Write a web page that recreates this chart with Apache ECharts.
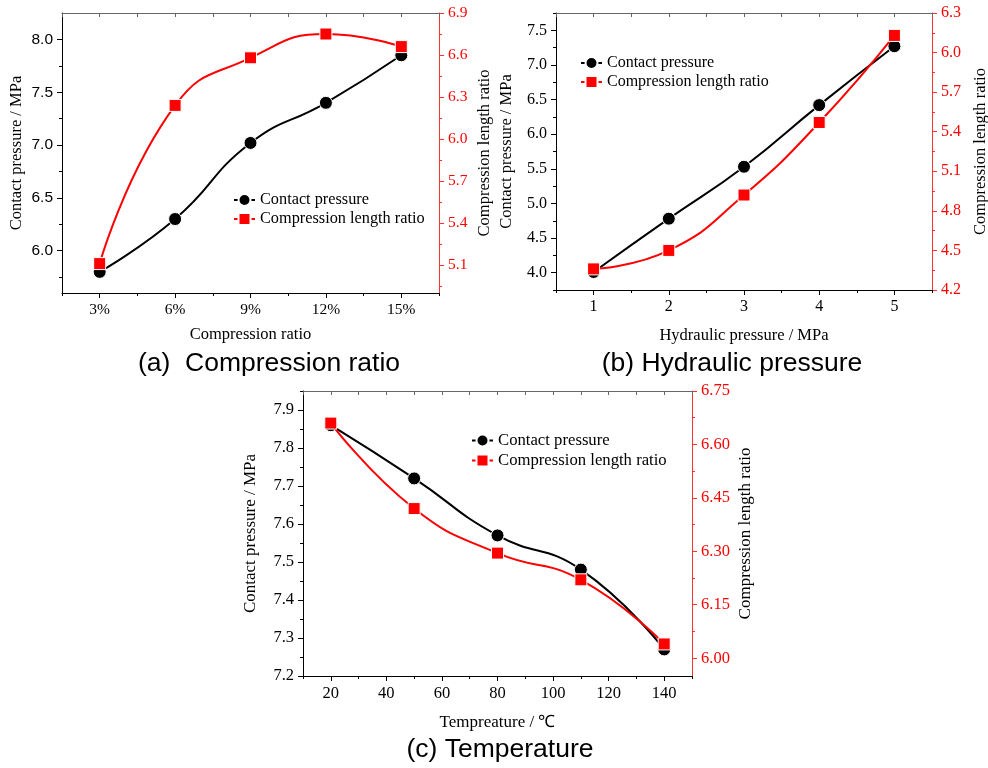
<!DOCTYPE html>
<html lang="en">
<head>
<meta charset="UTF-8">
<title>Contact pressure and compression length ratio</title>
<script src="https://cdn.jsdelivr.net/npm/echarts@6/dist/echarts.min.js"></script>
<style>html,body{margin:0;padding:0;background:#fff;}</style>
</head>
<body>
<div id="main" style="width:988px;height:768px;"></div>
<script>
// (a) compression ratio
var ratioX = [3, 6, 9, 12, 15];
var ratioPressure = [5.80, 6.30, 7.02, 7.40, 7.85];
var ratioLength = [5.11, 6.24, 6.58, 6.75, 6.66];
// (b) hydraulic pressure
var hydX = [1, 2, 3, 4, 5];
var hydPressure = [4.01, 4.78, 5.53, 6.42, 7.27];
var hydLength = [4.36, 4.50, 4.92, 5.47, 6.13];
// (c) temperature
var tempX = [20, 50, 80, 110, 140];
var tempPressure = [7.86, 7.72, 7.57, 7.48, 7.27];
var tempLength = [6.66, 6.42, 6.295, 6.22, 6.04];

// tick values
var ratioXTicks = [3, 6, 9, 12, 15];
var ratioXMinor = [1.5, 4.5, 7.5, 10.5, 13.5, 16.5];
var ratioLTicks = [6.0, 6.5, 7.0, 7.5, 8.0];
var ratioLMinor = [5.75, 6.25, 6.75, 7.25, 7.75];
var ratioRTicks = [5.1, 5.4, 5.7, 6.0, 6.3, 6.6, 6.9];
var ratioRMinor = [4.95, 5.25, 5.55, 5.85, 6.15, 6.45, 6.75];

var hydXTicks = [1, 2, 3, 4, 5];
var hydXMinor = [0.5, 1.5, 2.5, 3.5, 4.5, 5.5];
var hydLTicks = [4.0, 4.5, 5.0, 5.5, 6.0, 6.5, 7.0, 7.5];
var hydLMinor = [3.75, 4.25, 4.75, 5.25, 5.75, 6.25, 6.75, 7.25, 7.75];
var hydRTicks = [4.2, 4.5, 4.8, 5.1, 5.4, 5.7, 6.0, 6.3];
var hydRMinor = [4.35, 4.65, 4.95, 5.25, 5.55, 5.85, 6.15];

var tempXTicks = [20, 40, 60, 80, 100, 120, 140];
var tempXMinor = [10, 30, 50, 70, 90, 110, 130, 150];
var tempLTicks = [7.2, 7.3, 7.4, 7.5, 7.6, 7.7, 7.8, 7.9];
var tempLMinor = [7.25, 7.35, 7.45, 7.55, 7.65, 7.75, 7.85, 7.95];
var tempRTicks = [6.00, 6.15, 6.30, 6.45, 6.60, 6.75];
var tempRMinor = [6.075, 6.225, 6.375, 6.525, 6.675];

var serif = '"Liberation Serif", "Times New Roman", serif';
var sans = '"Liberation Sans", Arial, sans-serif';
var red = '#ff0000';
var names = ['Contact pressure', 'Compression length ratio'];

var panels = [
  {rect: [62, 13, 377, 280], fs: {tick: 15.5, name: 16.5, legend: 16.3},
   x: {min: 1.5, max: 16.5, major: ratioXTicks, minor: ratioXMinor, fmt: function (v) { return v + '%'; }, name: 'Compression ratio', gap: 33},
   yl: {min: 5.6, max: 8.25, major: ratioLTicks, minor: ratioLMinor, dec: 1, font: sans, gap: 37},
   yr: {min: 4.9, max: 6.9, major: ratioRTicks, minor: ratioRMinor, dec: 1, gap: 37},
   legend: [233, 192], title: '(a)  Compression ratio', titlePos: [269, 364],
   xs: ratioX, p: ratioPressure, l: ratioLength},
  {rect: [556, 13, 376, 277], fs: {tick: 16, name: 16.5, legend: 16},
   x: {min: 0.5, max: 5.5, major: hydXTicks, minor: hydXMinor, fmt: function (v) { return v; }, name: 'Hydraulic pressure / MPa', gap: 37},
   yl: {min: 3.75, max: 7.75, major: hydLTicks, minor: hydLMinor, dec: 1, font: serif, gap: 41},
   yr: {min: 4.2, max: 6.3, major: hydRTicks, minor: hydRMinor, dec: 1, gap: 40},
   legend: [580, 55], title: '(b) Hydraulic pressure', titlePos: [732, 364],
   xs: hydX, p: hydPressure, l: hydLength},
  {rect: [303, 391, 389, 285], fs: {tick: 16.5, name: 17, legend: 16.7},
   x: {min: 10, max: 150, major: tempXTicks, minor: tempXMinor, fmt: function (v) { return v; }, name: 'Tempreature / \u2103', gap: 38},
   yl: {min: 7.2, max: 7.95, major: tempLTicks, minor: tempLMinor, dec: 1, font: serif, gap: 44},
   yr: {min: 5.95, max: 6.75, major: tempRTicks, minor: tempRMinor, dec: 2, gap: 45},
   legend: [471, 432], title: '(c) Temperature', titlePos: [500, 750],
   xs: tempX, p: tempPressure, l: tempLength}
];

var grids = [], xAxes = [], yAxes = [], series = [], legends = [], graphics = [];

function mainAxis(gi, pos, c, color, labelColor, font, fmt, name, fs) {
  return {
    type: 'value', gridIndex: gi, position: pos, min: c.min, max: c.max,
    axisLine: {show: true, onZero: false, lineStyle: {color: color, width: 1}},
    axisTick: {show: true, inside: false, length: 5, customValues: c.major, lineStyle: {color: color}},
    axisLabel: {show: true, customValues: c.major, formatter: fmt, color: labelColor,
      fontFamily: font, fontSize: fs.tick, margin: 9, showMinLabel: true, showMaxLabel: true},
    splitLine: {show: false},
    name: name, nameLocation: 'middle', nameGap: c.gap,
    nameTextStyle: {fontFamily: serif, fontSize: fs.name, color: '#000'}
  };
}
function minorAxis(gi, pos, c, color, inside, len, ticks) {
  return {
    type: 'value', gridIndex: gi, position: pos, min: c.min, max: c.max,
    axisLine: {show: !!inside, onZero: false, lineStyle: {color: '#666', width: 1}},
    axisTick: {show: true, inside: !!inside, length: len, customValues: ticks, lineStyle: {color: color}},
    axisLabel: {show: false},
    splitLine: {show: false}
  };
}

panels.forEach(function (pn, gi) {
  grids.push({left: pn.rect[0], top: pn.rect[1], width: pn.rect[2], height: pn.rect[3],
    containLabel: false, outerBoundsMode: 'none'});
  var decL = pn.yl.dec, decR = pn.yr.dec;

  var xi = xAxes.length;
  xAxes.push(mainAxis(gi, 'bottom', pn.x, '#000', '#000', serif, pn.x.fmt, pn.x.name, pn.fs));
  xAxes.push(minorAxis(gi, 'bottom', pn.x, '#000', false, 3, pn.x.minor));
  xAxes.push(minorAxis(gi, 'top', pn.x, '#666', true, 4, pn.x.major.concat(pn.x.minor)));

  var yl = yAxes.length;
  yAxes.push(mainAxis(gi, 'left', pn.yl, '#000', '#000', pn.yl.font,
    function (v) { return v.toFixed(decL); }, 'Contact pressure / MPa', pn.fs));
  yAxes.push(minorAxis(gi, 'left', pn.yl, '#000', false, 3, pn.yl.minor));
  var yr = yAxes.length;
  yAxes.push(mainAxis(gi, 'right', pn.yr, '#ff3030', red, serif,
    function (v) { return v.toFixed(decR); }, 'Compression length ratio', pn.fs));
  yAxes.push(minorAxis(gi, 'right', pn.yr, '#ff3030', false, 3, pn.yr.minor));

  var pData = pn.xs.map(function (x, i) { return [x, pn.p[i]]; });
  var lData = pn.xs.map(function (x, i) { return [x, pn.l[i]]; });
  series.push({
    type: 'line', name: names[0], xAxisIndex: xi, yAxisIndex: yl, data: pData,
    smooth: 0.5, symbol: 'circle', symbolSize: 13,
    itemStyle: {color: '#000', borderColor: '#fff', borderWidth: 1},
    lineStyle: {color: '#000', width: 2}, z: 3
  });
  series.push({
    type: 'line', name: names[1], xAxisIndex: xi, yAxisIndex: yr, data: lData,
    smooth: 0.5, symbol: 'rect', symbolSize: 12,
    itemStyle: {color: red, borderColor: '#fff', borderWidth: 1},
    lineStyle: {color: red, width: 2}, z: 4
  });
  legends.push({
    orient: 'vertical', left: pn.legend[0], top: pn.legend[1], padding: 0,
    itemWidth: 21, itemHeight: 15, itemGap: 3, data: names,
    textStyle: {fontFamily: serif, fontSize: pn.fs.legend, color: '#000'}
  });
  graphics.push({
    type: 'text', x: pn.titlePos[0], y: pn.titlePos[1],
    style: {text: pn.title, font: '26.5px ' + sans, fill: '#000', align: 'center', verticalAlign: 'middle'}
  });
});

var myChart = echarts.init(document.getElementById('main'));
myChart.setOption({
  animation: false,
  backgroundColor: '#fff',
  grid: grids,
  xAxis: xAxes,
  yAxis: yAxes,
  legend: legends,
  series: series,
  graphic: graphics
});
</script>
</body>
</html>
